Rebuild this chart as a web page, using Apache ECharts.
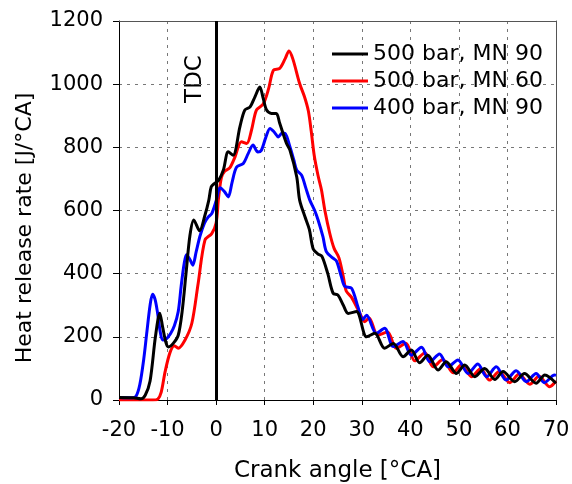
<!DOCTYPE html>
<html>
<head>
<meta charset="utf-8">
<script src="https://cdn.jsdelivr.net/npm/echarts@6/dist/echarts.min.js"></script>
<style>
  html, body { margin: 0; padding: 0; background: #fff; }
  #chart { width: 572px; height: 484px; }
</style>
</head>
<body>
<div id="chart"></div>
<script>
// series names
const seriesNames = ['500 bar, MN 90', '500 bar, MN 60', '400 bar, MN 90']

// [crank angle, heat release rate]
const black500mn90 = [
  [-20, 8], [-17, 7], [-15.5, 4], [-14.6, 15], [-13.6, 60], [-12.5, 200], [-11.6, 275], [-11, 230],
  [-10.3, 180], [-9.8, 168], [-8.8, 180], [-7.8, 205], [-7, 280], [-6.2, 400], [-5.4, 520], [-4.6, 570],
  [-3.4, 536], [-2.3, 585], [-1.5, 633], [-1, 675], [-0.3, 686], [0.5, 695], [1.5, 728], [2.5, 786],
  [3.5, 775], [4.9, 865], [5.9, 918], [7, 928], [8, 960], [9, 991], [9.7, 955], [10.4, 918],
  [11.4, 907], [12.4, 907], [13.1, 876], [14.5, 812], [15.2, 791], [16.6, 707], [17.2, 633], [18.3, 580],
  [19.2, 540], [20, 478], [21, 462], [21.8, 455], [23, 400], [24.1, 338], [25.1, 332], [26.2, 300],
  [27.2, 274], [28.9, 280], [31, 200], [32.7, 211], [34.7, 164], [36.5, 179], [38.5, 137], [40.2, 158],
  [41.9, 118], [43.6, 142], [45.7, 95], [47.4, 121], [49.5, 84], [51.2, 111], [53.3, 74], [55.3, 100],
  [57.4, 65], [59.1, 90], [61.5, 58], [63.5, 84], [65.9, 53], [67.7, 79], [70, 53]
]

const red500mn60 = [
  [-20, 0], [-13, 0], [-12, 3], [-11.3, 25], [-10.5, 90], [-9.5, 150], [-8.6, 172], [-7.8, 164],
  [-6.4, 190], [-5, 243], [-3.7, 369], [-2.3, 506], [-0.9, 527], [0, 560], [0.5, 640], [1.1, 705],
  [1.8, 725], [2.8, 735], [3.9, 770], [5.2, 818], [6.3, 812], [7.3, 855], [8.3, 918], [9.7, 937],
  [10.8, 985], [11.8, 1044], [13.1, 1050], [14.2, 1080], [15, 1105], [15.8, 1080], [17.2, 1002], [18.2, 960],
  [19, 915], [19.6, 850], [20.2, 775], [21, 710], [21.7, 665], [22.4, 600], [23.4, 528], [24.3, 480],
  [25.3, 450], [26.2, 390], [26.8, 345], [27.9, 325], [29.6, 275], [30.6, 248], [31.5, 260], [33.3, 205],
  [35.3, 215], [37.1, 164], [39.1, 180], [40.9, 124], [43, 150], [44.7, 105], [46.7, 128], [48.8, 86],
  [50.5, 112], [52.6, 74], [54.5, 100], [56.3, 63], [58.3, 90], [60.5, 55], [62.4, 82], [64.6, 50],
  [66.5, 75], [68.7, 42], [70, 60]
]

const blue400mn90 = [
  [-20, 8], [-17.5, 7], [-16.5, 12], [-15.7, 50], [-14.9, 130], [-14.3, 210], [-13.6, 300], [-13.1, 335],
  [-12.6, 320], [-12.1, 280], [-11.5, 215], [-11, 190], [-10.3, 193], [-9.4, 210], [-8.6, 235], [-7.8, 280],
  [-7.2, 360], [-6.6, 430], [-6.1, 460], [-5.4, 445], [-4.8, 427], [-4.1, 470], [-3.3, 520], [-2.4, 560],
  [-1.6, 580], [-0.9, 590], [0, 630], [0.8, 672], [1.7, 660], [2.5, 643], [3.3, 690], [4.2, 737],
  [5.6, 749], [6.6, 780], [7.6, 807], [8.6, 785], [9.3, 790], [10.2, 830], [11.1, 860], [12, 848],
  [12.8, 833], [13.6, 845], [14.2, 844], [15.2, 802], [16, 760], [16.6, 728], [17.6, 712], [18.5, 670],
  [19.3, 633], [20.3, 600], [21, 570], [22, 517], [22.7, 470], [24, 450], [24.8, 440], [25.8, 390],
  [26.5, 360], [27.9, 354], [29.2, 295], [30.2, 255], [31, 268], [33, 211], [34.7, 227], [36.5, 169],
  [38.5, 185], [40.2, 142], [42.3, 167], [44, 121], [46, 146], [47.8, 105], [49.8, 127], [51.9, 84],
  [53.9, 114], [55.7, 74], [57.7, 105], [59.7, 63], [61.8, 93], [63.9, 58], [65.9, 84], [67.6, 55],
  [69.7, 79], [70, 78]
]

// axis ranges
const xMin = -20, xMax = 70, xStep = 10
const yMin = 0, yMax = 1200, yStep = 200

const font = 'DejaVu Sans'
const gridLine = { show: true, lineStyle: { color: '#777', type: [3, 5], width: 1 } }

const myChart = echarts.init(document.getElementById('chart'))

const option = {
  animation: false,
  backgroundColor: '#fff',
  grid: { left: 119, right: 16, top: 21, bottom: 84, outerBoundsMode: 'none' },
  legend: {
    orient: 'vertical',
    left: 327, top: 38,
    itemWidth: 36, itemHeight: 3, itemGap: 5,
    icon: 'rect',
    data: seriesNames,
    textStyle: { fontFamily: font, fontSize: 22, color: '#000', lineHeight: 22 }
  },
  xAxis: [
    {
      type: 'value',
      min: xMin, max: xMax, interval: xStep,
      name: 'Crank angle [°CA]',
      nameLocation: 'middle',
      nameGap: 60,
      nameTextStyle: { fontFamily: font, fontSize: 23, color: '#000' },
      axisLine: { show: true, onZero: false, lineStyle: { color: '#000', width: 1 } },
      axisTick: { show: true, length: 5, lineStyle: { color: '#000' } },
      axisLabel: { fontFamily: font, fontSize: 21, color: '#000', margin: 20, formatter: v => String(v) },
      splitLine: gridLine
    },
    {
      // top frame line
      type: 'value', position: 'top',
      min: xMin, max: xMax, interval: xStep,
      axisLine: { show: true, onZero: false, lineStyle: { color: '#555', width: 1 } },
      axisTick: { show: false }, axisLabel: { show: false }, splitLine: { show: false }
    }
  ],
  yAxis: [
    {
      type: 'value',
      min: yMin, max: yMax, interval: yStep,
      axisLine: { show: true, onZero: false, lineStyle: { color: '#000', width: 1 } },
      axisTick: { show: true, length: 6, lineStyle: { color: '#000' } },
      axisLabel: { fontFamily: font, fontSize: 21, color: '#000', margin: 16, formatter: v => String(v) },
      splitLine: gridLine
    },
    {
      // right frame line
      type: 'value', position: 'right',
      min: yMin, max: yMax, interval: yStep,
      axisLine: { show: true, onZero: false, lineStyle: { color: '#555', width: 1 } },
      axisTick: { show: false }, axisLabel: { show: false }, splitLine: { show: false }
    }
  ],
  graphic: [
    {
      type: 'text', rotation: Math.PI / 2, x: 25, y: 228,
      style: { text: 'Heat release rate [J/°CA]', font: '22px "DejaVu Sans"', fill: '#000', textAlign: 'center', textVerticalAlign: 'middle' }
    },
    {
      type: 'text', rotation: Math.PI / 2, x: 195, y: 79,
      style: { text: 'TDC', font: '23px "DejaVu Sans"', fill: '#000', textAlign: 'center', textVerticalAlign: 'middle' }
    }
  ],
  series: [
    {
      name: seriesNames[0], type: 'line', data: black500mn90, z: 4,
      showSymbol: false, smooth: 0.3,
      lineStyle: { color: '#000', width: 3 }, itemStyle: { color: '#000' },
      markLine: {
        silent: true, symbol: 'none', label: { show: false },
        lineStyle: { color: '#000', width: 3, type: 'solid' },
        data: [{ xAxis: 0 }]
      }
    },
    {
      name: seriesNames[1], type: 'line', data: red500mn60, z: 2,
      showSymbol: false, smooth: 0.3,
      lineStyle: { color: '#ff0000', width: 3 }, itemStyle: { color: '#ff0000' }
    },
    {
      name: seriesNames[2], type: 'line', data: blue400mn90, z: 3,
      showSymbol: false, smooth: 0.3,
      lineStyle: { color: '#0000ff', width: 3 }, itemStyle: { color: '#0000ff' }
    }
  ]
}

option && myChart.setOption(option)
</script>
</body>
</html>
